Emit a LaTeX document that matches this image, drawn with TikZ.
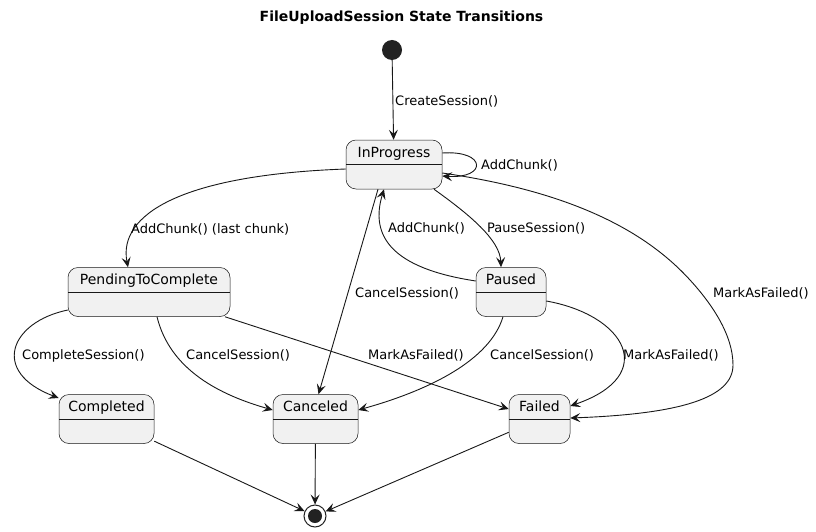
\documentclass[tikz,border=0pt]{standalone}
\usepackage{fontspec}
\setmainfont{DejaVu Sans}
\usetikzlibrary{arrows.meta}
\definecolor{statefill}{HTML}{F1F1F1}
\definecolor{linecol}{HTML}{181818}
\definecolor{dotcol}{HTML}{222222}
\begin{document}
\begin{tikzpicture}[x=1pt,y=-1pt,
  state/.style={rectangle, rounded corners=10pt, draw=linecol, line width=0.5pt, fill=statefill,
    minimum height=49pt, inner sep=0pt, text height=10pt, text depth=24.8pt,
    font=\fontsize{14}{16}\selectfont,
    path picture={\draw[linecol, line width=0.5pt] (path picture bounding box.west) -- (path picture bounding box.east);}},
  trans/.style={draw=linecol, line width=0.9pt, -{Stealth[length=10pt,width=9pt,inset=4pt]}},
  lbl/.style={anchor=west, inner sep=0pt, font=\fontsize{13}{15}\selectfont},
  ]
   \fill[white] (0,0) rectangle (816,532);
   \useasboundingbox (0,0) rectangle (816,532);
   \node[font=\bfseries\fontsize{14}{16}\selectfont] (title) at (401.5,18) {FileUploadSession State Transitions};

   \node[circle, fill=dotcol, minimum size=20pt, inner sep=0pt] (start) at (392,50) {};
   \node[state, minimum width=96pt] (inprog) at (394,164.5) {InProgress};
   \node[state, minimum width=162pt] (pending) at (149,292) {PendingToComplete};
   \node[state, minimum width=70pt] (paused) at (511,292) {Paused};
   \node[state, minimum width=95pt] (completed) at (106.5,419) {Completed};
   \node[state, minimum width=85pt] (canceled) at (315.5,419) {Canceled};
   \node[state, minimum width=61pt] (failed) at (539.5,419) {Failed};
   \node[circle, draw=dotcol, line width=1pt, fill=white, minimum size=22pt, inner sep=0pt,
     path picture={\fill[dotcol] (path picture bounding box.center) circle (7pt);}] (finish) at (315,516) {};

   \draw[trans] (start) -- (inprog);
   \draw[trans] ([yshift=11.5pt]inprog.east) .. controls (487,150) and (487,179) .. ([yshift=-11.5pt]inprog.east);
   \draw[trans] ([yshift=-4.5pt]inprog.west) .. controls (180,175) and (118,215) .. ([xshift=-21pt]pending.north);
   \draw[trans] ([xshift=40pt]inprog.south) .. controls (470,215) and (500,240) .. ([xshift=-10pt]paused.north);
   \draw[trans] ([yshift=11pt]paused.west) .. controls (390,268) and (370,235) .. ([xshift=-10pt]inprog.south);
   \draw[trans] ([xshift=-16pt]inprog.south) -- ([xshift=3pt]canceled.north);
   \draw[trans] ([yshift=-8.5pt]inprog.east) .. controls (560,190) and (640,225) .. (690,280)
     .. controls (712,304) and (733,335) .. (733,365)
     .. controls (733,398) and (680,414) .. ([yshift=1pt]failed.east);
   \draw[trans] ([yshift=-18pt]pending.west) .. controls (10,322) and (-10,372) .. ([yshift=21pt]completed.west);
   \draw[trans] ([xshift=8pt]pending.south) .. controls (170,370) and (220,395) .. ([yshift=9pt]canceled.west);
   \draw[trans] (pending) -- (failed);
   \draw[trans] ([xshift=-8pt]paused.south) .. controls (490,360) and (430,390) .. ([yshift=9pt]canceled.east);
   \draw[trans] ([yshift=-9pt]paused.east) .. controls (625,315) and (660,375) .. ([yshift=13pt]failed.east);
   \draw[trans] (completed) -- (finish);
   \draw[trans] (canceled) -- (finish);
   \draw[trans] (failed) -- (finish);

   \node[lbl] (lcreate) at (395,101) {CreateSession()};
   \node[lbl] (lloop) at (481,165) {AddChunk()};
   \node[lbl] (llast) at (131,229) {AddChunk() (last chunk)};
   \node[lbl] (lpause) at (487,228) {PauseSession()};
   \node[lbl] (lresume) at (388,228) {AddChunk()};
   \node[lbl] (lcancela) at (355,293) {CancelSession()};
   \node[lbl] (lfaila) at (713,293) {MarkAsFailed()};
   \node[lbl] (lcomplete) at (22,356) {CompleteSession()};
   \node[lbl] (lcancelb) at (186,355) {CancelSession()};
   \node[lbl] (lfailb) at (368,355) {MarkAsFailed()};
   \node[lbl] (lcancelc) at (490,355) {CancelSession()};
   \node[lbl] (lfailc) at (623,355) {MarkAsFailed()};
\end{tikzpicture}
\end{document}
